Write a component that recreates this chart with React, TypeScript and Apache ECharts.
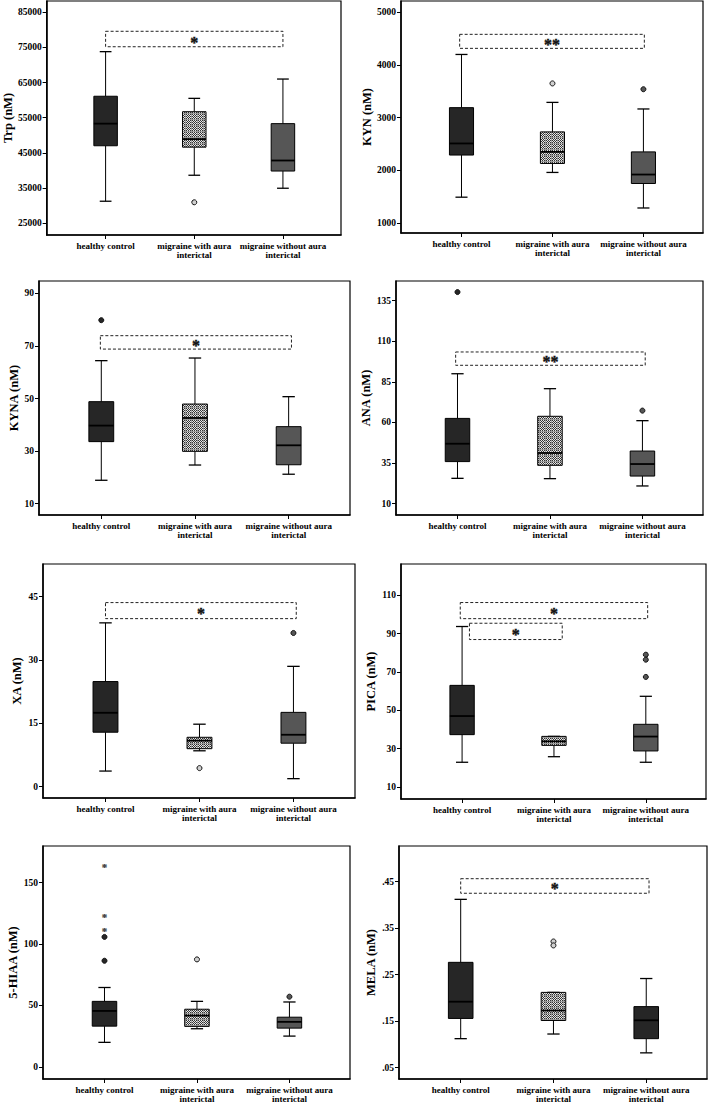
import React, { useEffect, useRef } from "react";
import * as echarts from "echarts";

const categories = [
  "healthy control",
  "migraine with aura\ninterictal",
  "migraine without aura\ninterictal",
];

// each box: [lower whisker, Q1, median, Q3, upper whisker]
const trpBoxes = [
  [31200, 47000, 53300, 61100, 73800],
  [38600, 46600, 48900, 56700, 60500],
  [34900, 39800, 42800, 53300, 66000],
];
const trpOutliers = [[1, 30900]];
const trpBrackets = [[0, 2.0, 75200, 79600]];
const trpStars = ["*"];
const trpTicks = [25000, 35000, 45000, 55000, 65000, 75000, 85000];

const kynBoxes = [
  [1490, 2290, 2510, 3190, 4200],
  [1960, 2130, 2350, 2730, 3290],
  [1285, 1750, 1920, 2350, 3165],
];
const kynOutliers = [[1, 3650], [2, 3540]];
const kynBrackets = [[-0.02, 2.01, 4316, 4582]];
const kynStars = ["**"];
const kynTicks = [1000, 2000, 3000, 4000, 5000];

const kynaBoxes = [
  [18.9, 33.6, 39.7, 48.8, 64.4],
  [24.7, 29.9, 42.6, 47.9, 65.4],
  [21.2, 24.8, 32.2, 39.3, 50.7],
];
const kynaOutliers = [[0, 79.8]];
const kynaBrackets = [[-0.01, 2.03, 68.8, 73.9]];
const kynaStars = ["*"];
const kynaTicks = [10, 30, 50, 70, 90];

const anaBoxes = [
  [25.6, 35.9, 46.9, 62.5, 90.0],
  [25.4, 33.6, 41.2, 63.8, 80.8],
  [20.9, 27.0, 34.4, 42.4, 61.1],
];
const anaOutliers = [[0, 140.3], [2, 67.3]];
const anaBrackets = [[-0.02, 2.03, 95.2, 103.4]];
const anaStars = ["**"];
const anaTicks = [10, 35, 60, 85, 110, 135];

const xaBoxes = [
  [3.7, 12.9, 17.5, 24.9, 38.8],
  [8.5, 9.0, 10.9, 11.7, 14.8],
  [1.9, 10.3, 12.3, 17.6, 28.5],
];
const xaOutliers = [[1, 4.4], [2, 36.4]];
const xaBrackets = [[0, 2.03, 39.8, 43.6]];
const xaStars = ["*"];
const xaTicks = [0, 15, 30, 45];

const picaBoxes = [
  [22.9, 37.3, 47.0, 63.0, 93.7],
  [25.8, 31.7, 33.8, 36.4, 36.4],
  [22.9, 28.8, 36.3, 42.7, 57.3],
];
const picaOutliers = [[2, 79.0], [2, 76.4], [2, 67.4]];
const picaBrackets = [
  [-0.02, 2.02, 97.8, 106.2],
  [0.08, 1.09, 86.9, 95.4],
];
const picaStars = ["*", "*"];
const picaTicks = [10, 30, 50, 70, 90, 110];

const hiaaBoxes = [
  [19.9, 33.1, 45.5, 53.3, 64.6],
  [31.0, 32.9, 41.7, 46.9, 53.3],
  [25.0, 31.5, 36.6, 40.4, 52.8],
];
const hiaaOutliers = [[0, 86.4], [0, 105.8], [1, 87.5], [2, 57.1]];
const hiaaExtremes = [[0, 112.6], [0, 123.6], [0, 164.6]];
const hiaaTicks = [0, 50, 100, 150];

const melaBoxes = [
  [0.1125, 0.156, 0.192, 0.2766, 0.412],
  [0.1225, 0.1516, 0.173, 0.212, 0.212],
  [0.082, 0.1125, 0.152, 0.1814, 0.2418],
];
const melaOutliers = [[1, 0.3214], [1, 0.313]];
const melaBrackets = [[0, 2.03, 0.4251, 0.4564]];
const melaStars = ["*"];
const melaTicks = [0.05, 0.15, 0.25, 0.35, 0.45];

const DARK = "#262626";
const MID = "#565656";
const FONT = "'Liberation Serif', 'Times New Roman', serif";

const panels = [
  { name: "Trp (nM)", boxes: trpBoxes, outliers: trpOutliers, extremes: [], brackets: trpBrackets, stars: trpStars, ticks: trpTicks, third: MID, dec: 0 },
  { name: "KYN (nM)", boxes: kynBoxes, outliers: kynOutliers, extremes: [], brackets: kynBrackets, stars: kynStars, ticks: kynTicks, third: MID, dec: 0 },
  { name: "KYNA (nM)", boxes: kynaBoxes, outliers: kynaOutliers, extremes: [], brackets: kynaBrackets, stars: kynaStars, ticks: kynaTicks, third: MID, dec: 0 },
  { name: "ANA (nM)", boxes: anaBoxes, outliers: anaOutliers, extremes: [], brackets: anaBrackets, stars: anaStars, ticks: anaTicks, third: MID, dec: 0 },
  { name: "XA (nM)", boxes: xaBoxes, outliers: xaOutliers, extremes: [], brackets: xaBrackets, stars: xaStars, ticks: xaTicks, third: MID, dec: 0 },
  { name: "PICA (nM)", boxes: picaBoxes, outliers: picaOutliers, extremes: [], brackets: picaBrackets, stars: picaStars, ticks: picaTicks, third: MID, dec: 0 },
  { name: "5-HIAA (nM)", boxes: hiaaBoxes, outliers: hiaaOutliers, extremes: hiaaExtremes, brackets: [], stars: [], ticks: hiaaTicks, third: MID, dec: 0 },
  { name: "MELA (nM)", boxes: melaBoxes, outliers: melaOutliers, extremes: [], brackets: melaBrackets, stars: melaStars, ticks: melaTicks, third: DARK, dec: 2 },
];

// frame positions (px) and axis extents
const layouts = [
  { l: 43, t: 1, r: 341, b: 235, yMin: 21582, yMax: 88228, gap: 31 },
  { l: 401, t: 1, r: 703, b: 233, yMin: 810, yMax: 5215, gap: 28 },
  { l: 39, t: 281, r: 350, b: 515, yMin: 5.69, yMax: 94.7, gap: 18 },
  { l: 396, t: 281, r: 703, b: 515, yMin: 3.02, yMax: 147.1, gap: 24 },
  { l: 43, t: 564, r: 355, b: 798, yMin: -2.68, yMax: 52.74, gap: 20 },
  { l: 401, t: 564, r: 706, b: 799, yMin: 3.74, yMax: 126.3, gap: 24 },
  { l: 43, t: 846, r: 350, b: 1081, yMin: -9.96, yMax: 179.9, gap: 22 },
  { l: 399, t: 846, r: 707, b: 1081, yMin: 0.0258, yMax: 0.5267, gap: 22 },
];
const X_MIN = -0.665;
const X_MAX = 2.655;
const BOX_W = 0.265;

function makeChecker(): HTMLCanvasElement {
  const c = document.createElement("canvas");
  c.width = 6;
  c.height = 6;
  const ctx = c.getContext("2d")!;
  ctx.fillStyle = "#e6e6e6";
  ctx.fillRect(0, 0, 6, 6);
  for (let i = 0; i < 6; i++) {
    for (let j = 0; j < 6; j++) {
      if (i === 5 || j === 5) {
        ctx.fillStyle = "#9a9a9a";
        ctx.fillRect(i, j, 1, 1);
      } else if ((i + j) % 2 === 0) {
        ctx.fillStyle = "#333333";
        ctx.fillRect(i, j, 1, 1);
      }
    }
  }
  return c;
}

export default function App() {
  const ref = useRef<HTMLDivElement>(null);
  useEffect(() => {
    if (!ref.current) return;
    const chart = echarts.init(ref.current, undefined, { renderer: "svg" });
    const checker = makeChecker();
    const pattern: any = { image: checker, repeat: "repeat", imageWidth: 6, imageHeight: 6 };

    const grid: any[] = [];
    const xAxis: any[] = [];
    const yAxis: any[] = [];
    const series: any[] = [];

    panels.forEach((p, i) => {
      const L = layouts[i];
      const fills = [DARK, pattern, p.third];
      const outFills = [DARK, "#d0d0d0", p.third];
      grid.push({
        left: L.l,
        top: L.t,
        width: L.r - L.l,
        height: L.b - L.t,
        show: true,
        borderColor: "#000",
        borderWidth: 1.2,
        backgroundColor: "transparent",
      });
      xAxis.push({
        type: "value",
        gridIndex: i,
        min: X_MIN,
        max: X_MAX,
        splitLine: { show: false },
        axisLine: { show: true, onZero: false, lineStyle: { color: "#000", width: 1.5 } },
        axisTick: { show: true, customValues: [0, 1, 2], length: 4, lineStyle: { color: "#000", width: 1 } },
        axisLabel: {
          customValues: [0, 1, 2],
          formatter: (v: number) => categories[Math.round(v)] || "",
          fontFamily: FONT,
          fontWeight: "bold",
          fontSize: 9,
          lineHeight: 9.5,
          color: "#000",
          margin: 6,
        },
      });
      yAxis.push({
        type: "value",
        gridIndex: i,
        min: L.yMin,
        max: L.yMax,
        name: p.name,
        nameLocation: "middle",
        nameRotate: 90,
        nameGap: L.gap,
        nameTextStyle: { fontFamily: FONT, fontWeight: "bold", fontSize: 12.5, color: "#000" },
        splitLine: { show: false },
        axisLine: { show: true, onZero: false, lineStyle: { color: "#000", width: 1.5 } },
        axisTick: { show: true, customValues: p.ticks, length: 4, lineStyle: { color: "#000", width: 1 } },
        axisLabel: {
          customValues: p.ticks,
          formatter: (v: number) => (p.dec ? v.toFixed(p.dec).replace(/^0/, "") : String(Math.round(v))),
          fontFamily: FONT,
          fontWeight: "bold",
          fontSize: 9.5,
          color: "#000",
          margin: 5,
        },
      });

      // brackets
      if (p.brackets.length) {
        series.push({
          type: "custom",
          xAxisIndex: i,
          yAxisIndex: i,
          silent: true,
          data: p.brackets,
          encode: { x: [0, 1], y: [2, 3] },
          renderItem: (params: any, api: any) => {
            const a = api.coord([api.value(0), api.value(3)]);
            const b = api.coord([api.value(1), api.value(2)]);
            const star = p.stars[params.dataIndex];
            return {
              type: "group",
              children: [
                {
                  type: "rect",
                  shape: { x: a[0], y: a[1], width: b[0] - a[0], height: b[1] - a[1] },
                  style: { fill: "none", stroke: "#222", lineWidth: 1, lineDash: [3, 2] },
                },
                {
                  type: "text",
                  x: (a[0] + b[0]) / 2,
                  y: (a[1] + b[1]) / 2 + 3,
                  style: {
                    text: star,
                    fontFamily: FONT,
                    fontWeight: "bold",
                    fontSize: 16,
                    fill: "#111",
                    stroke: "#111",
                    lineWidth: 0.4,
                    align: "center",
                    verticalAlign: "middle",
                  },
                },
              ],
            };
          },
        });
      }

      // boxes
      series.push({
        type: "custom",
        xAxisIndex: i,
        yAxisIndex: i,
        silent: true,
        data: p.boxes.map((b, k) => [k, ...b]),
        encode: { x: 0, y: [1, 2, 3, 4, 5] },
        renderItem: (params: any, api: any) => {
          const ci = api.value(0);
          const pts = [1, 2, 3, 4, 5].map((d) => api.coord([ci, api.value(d)]));
          const cx = pts[0][0];
          const bw = api.size([BOX_W, 0])[0];
          const half = bw / 2;
          const cap = bw / 4;
          const ln = { stroke: "#000", lineWidth: 1 };
          return {
            type: "group",
            children: [
              { type: "line", shape: { x1: cx, y1: pts[0][1], x2: cx, y2: pts[1][1] }, style: ln },
              { type: "line", shape: { x1: cx, y1: pts[3][1], x2: cx, y2: pts[4][1] }, style: ln },
              { type: "line", shape: { x1: cx - cap, y1: pts[0][1], x2: cx + cap, y2: pts[0][1] }, style: { stroke: "#000", lineWidth: 1.3 } },
              { type: "line", shape: { x1: cx - cap, y1: pts[4][1], x2: cx + cap, y2: pts[4][1] }, style: { stroke: "#000", lineWidth: 1.3 } },
              {
                type: "rect",
                shape: { x: cx - half, y: pts[3][1], width: bw, height: pts[1][1] - pts[3][1] },
                style: { fill: fills[params.dataIndex], stroke: "#000", lineWidth: 1 },
              },
              { type: "line", shape: { x1: cx - half, y1: pts[2][1], x2: cx + half, y2: pts[2][1] }, style: { stroke: "#000", lineWidth: 1.8 } },
            ],
          };
        },
      });

      // outliers
      series.push({
        type: "scatter",
        xAxisIndex: i,
        yAxisIndex: i,
        silent: true,
        symbol: "circle",
        symbolSize: 5,
        data: p.outliers,
        itemStyle: {
          color: (params: any) => outFills[params.data[0]],
          borderColor: "#111",
          borderWidth: 1,
          opacity: 1,
        },
      });

      // extremes
      if (p.extremes.length) {
        series.push({
          type: "custom",
          xAxisIndex: i,
          yAxisIndex: i,
          silent: true,
          data: p.extremes,
          encode: { x: 0, y: 1 },
          renderItem: (params: any, api: any) => {
            const c = api.coord([api.value(0), api.value(1)]);
            return {
              type: "text",
              x: c[0],
              y: c[1] + 2,
              style: {
                text: "*",
                fontFamily: FONT,
                fontWeight: "bold",
                fontSize: 11,
                fill: "#333",
                stroke: "#333",
                lineWidth: 0.2,
                align: "center",
                verticalAlign: "middle",
              },
            };
          },
        });
      }
    });

    chart.setOption({
      animation: false,
      backgroundColor: "#fff",
      grid,
      xAxis,
      yAxis,
      series,
    });
    return () => chart.dispose();
  }, []);
  return (
    <div
      ref={ref}
      style={{ position: "absolute", left: 0, top: 0, width: 709, height: 1104 }}
    />
  );
}
